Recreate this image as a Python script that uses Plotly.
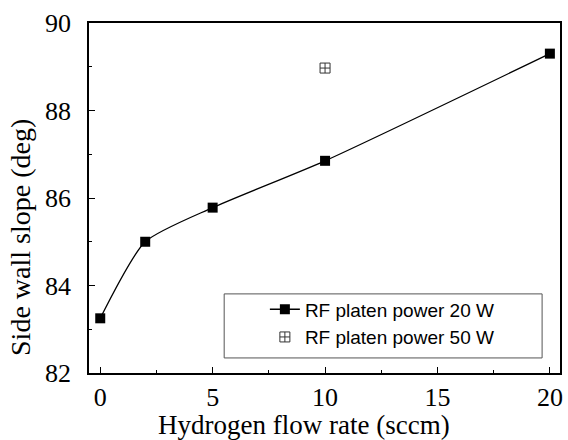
import plotly.graph_objects as go

flow_20w = [0, 2, 5, 10, 20]
slope_20w = [83.25, 85.0, 85.78, 86.85, 89.3]
flow_50w = [10]
slope_50w = [88.97]
name_20w = "RF platen power 20 W"
name_50w = "RF platen power 50 W"
x_ticks = [0, 5, 10, 15, 20]
y_ticks = [82, 84, 86, 88, 90]
x_title = "Hydrogen flow rate (sccm)"
y_title = "Side wall slope (deg)"

serif = "Liberation Serif, Times New Roman, serif"
sans = "Liberation Sans, Arial, sans-serif"

fig = go.Figure()
fig.add_trace(go.Scatter(
    x=flow_20w, y=slope_20w, name=name_20w, mode="lines+markers",
    line=dict(color="black", width=1.3, shape="spline", smoothing=0.6),
    marker=dict(symbol="square", size=10, color="black"),
))
fig.add_trace(go.Scatter(
    x=flow_50w, y=slope_50w, name=name_50w, mode="markers",
    marker=dict(symbol="square-cross-open", size=10, color="#333333", line=dict(width=1)),
))

axis_common = dict(
    showline=True, linecolor="black", linewidth=1.5, mirror=True,
    ticks="inside", ticklen=6, tickwidth=1.2, tickcolor="black",
    showgrid=False, zeroline=False,
    tickfont=dict(family=serif, size=26, color="black"),
)
fig.update_xaxes(
    range=[-0.5, 20.45], tickvals=x_ticks,
    minor=dict(ticks="inside", ticklen=3, tickwidth=1, tickcolor="black", dtick=2.5),
    **axis_common,
)
fig.update_yaxes(
    range=[82, 90], tickvals=y_ticks,
    minor=dict(ticks="inside", ticklen=3, tickwidth=1, tickcolor="black", dtick=1),
    ticklabelstandoff=11,
    **axis_common,
)
fig.add_annotation(
    text=x_title, xref="paper", yref="paper", x=0.456, y=-0.15,
    xanchor="center", yanchor="middle", showarrow=False,
    font=dict(family=serif, size=27, color="black"),
)
fig.add_annotation(
    text=y_title, xref="paper", yref="paper", x=-0.147, y=0.388,
    xanchor="center", yanchor="middle", showarrow=False, textangle=-90,
    font=dict(family=serif, size=28, color="black"),
)
# legend frame
fig.add_shape(
    type="rect", xref="paper", yref="paper",
    x0=0.287, x1=0.962, y0=0.043, y1=0.226,
    line=dict(color="#555555", width=1), fillcolor="white", layer="below",
)
fig.update_layout(
    width=568, height=440,
    margin=dict(l=89, r=5, t=23, b=67),
    paper_bgcolor="white", plot_bgcolor="white",
    showlegend=True,
    legend=dict(
        x=(266 - 89) / 474, y=0.236, xanchor="left", yanchor="top",
        borderwidth=0, bgcolor="rgba(0,0,0,0)",
        font=dict(family=sans, size=19, color="black"),
        tracegroupgap=0, itemwidth=30,
    ),
)
fig.write_html("out.html")
